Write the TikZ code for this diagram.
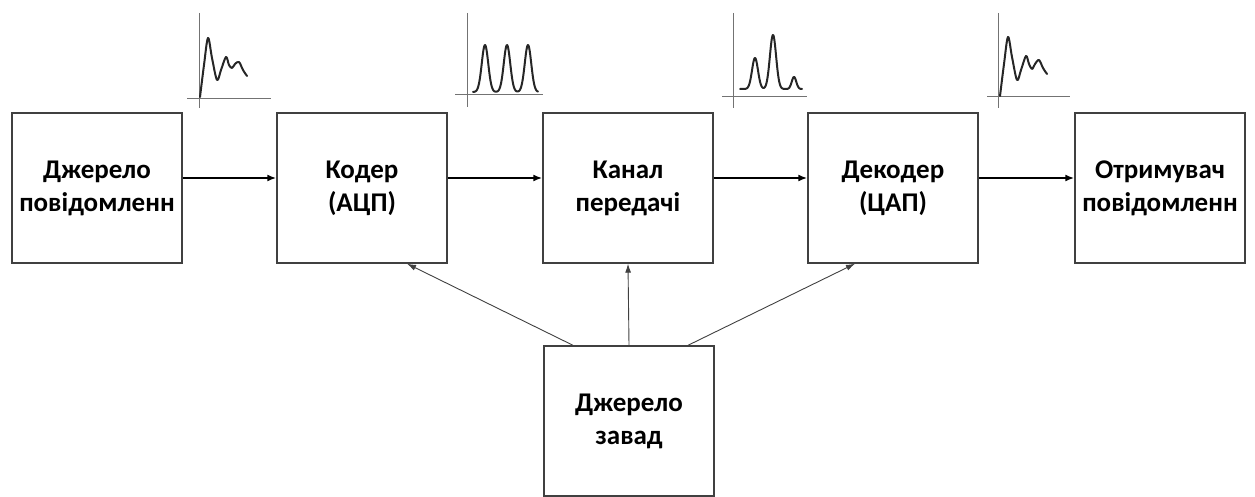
\documentclass[tikz,border=0pt]{standalone}
\usepackage{fontspec}
\setmainfont{Carlito}
\usetikzlibrary{arrows.meta,calc}
\begin{document}
\begin{tikzpicture}[x=1pt,y=-1pt,
  block/.style={draw=black!75, line width=1.4pt, fill=white,
    minimum width=170pt, minimum height=150pt, align=center, inner sep=0pt,
    font=\fontsize{27}{33}\selectfont\bfseries},
  flow/.style={-{Latex[length=9pt,width=7pt]}, line width=1.9pt},
  noise/.style={-{Latex[length=9pt,width=6pt]}, line width=0.9pt, draw=black!75},
  axis/.style={line width=1pt, draw=black!55},
  wave/.style={line width=2pt, line join=round, line cap=round, draw=black!85}]
\useasboundingbox (0,0) rectangle (1255,497);

% processing chain
\node[block] (src)   at (97,188)   {Джерело\\повідомленн};
\node[block] (coder) at (362,188)  {Кодер\\(АЦП)};
\node[block] (chan)  at (628,188)  {Канал\\передачі};
\node[block] (dec)   at (893,188)  {Декодер\\(ЦАП)};
\node[block] (dst)   at (1160,188) {Отримувач\\повідомленн};
\node[block] (noise) at (629,421)  {Джерело\\завад};

% signal path
\draw[flow] ($(src.east)+(0,-10)$)   -- ($(coder.west)+(0,-10)$);
\draw[flow] ($(coder.east)+(0,-10)$) -- ($(chan.west)+(0,-10)$);
\draw[flow] ($(chan.east)+(0,-10)$)  -- ($(dec.west)+(0,-10)$);
\draw[flow] ($(dec.east)+(0,-10)$)   -- ($(dst.west)+(0,-10)$);

% interference
\draw[noise] ($(noise.north)+(-56,0)$) -- ($(coder.south)+(45,0)$);
\draw[noise] (noise.north) -- (chan.south);
\draw[noise] ($(noise.north)+(59,0)$)  -- ($(dec.south)+(-38,0)$);

% source signal
\draw[axis] (187,99) -- (271,99);
\draw[axis] (199,13) -- (199,108);
\draw[wave] plot[smooth, tension=0.55] coordinates {(200,97) (204,65) (208,38) (212,58) (217,80) (221,70) (226,57) (229,65) (232,68) (235,64) (239,62) (243,70) (247,76)};

% coded pulses
\draw[axis] (455,95) -- (543,95);
\draw[axis] (467,13) -- (467,107);
\draw[wave] plot[domain=473:538, samples=160, smooth]
  (\x, {92-47*(exp(-((\x-485)/4.6)^2)+exp(-((\x-507)/4.6)^2)+exp(-((\x-528)/4.6)^2))});

% distorted pulses
\draw[axis] (722,97) -- (807,97);
\draw[axis] (733,13) -- (733,108);
\draw[wave] plot[domain=740:802, samples=160, smooth]
  (\x, {89-31*exp(-((\x-755)/4.2)^2)-54*exp(-((\x-773)/4.4)^2)-12*exp(-((\x-794)/3.2)^2)});

% restored signal
\draw[axis] (987,97) -- (1070,97);
\draw[axis] (998,13) -- (998,108);
\draw[wave] plot[smooth, tension=0.55] coordinates {(1000,96) (1004,64) (1008,37) (1012,57) (1017,80) (1021,70) (1026,56) (1029,64) (1032,69) (1035,64) (1039,60) (1043,68) (1047,74)};
\end{tikzpicture}
\end{document}
